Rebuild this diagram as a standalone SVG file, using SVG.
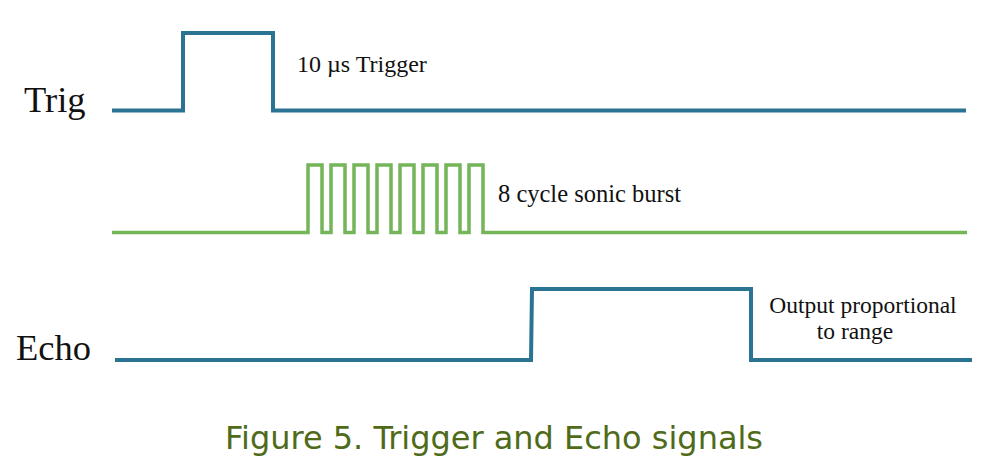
<svg xmlns="http://www.w3.org/2000/svg" width="996" height="469" viewBox="0 0 996 469">
<style>
.sig{fill:none;stroke-linejoin:miter;stroke-linecap:butt}
.blue{stroke:#2a7392;stroke-width:4}
.green{stroke:#74b55a;stroke-width:3.5}
.lbl{font-family:"Liberation Serif","Times New Roman",serif;fill:#111}
.cap{font-family:"DejaVu Sans",Verdana,sans-serif;fill:#4f6b1a;font-size:32px}
</style>
<rect width="996" height="469" fill="#ffffff"/>
<g id="connectors">
<path id="trig-wave" class="sig blue" d="M112,110.5 H183 V33 H273 V110.5 H966"/>
<path id="burst-wave" class="sig green" d="M112,232.5 H308 V165 H322 V232.5 H331 V165 H345 V232.5 H354 V165 H368 V232.5 H377 V165 H391 V232.5 H400 V165 H414 V232.5 H423 V165 H437 V232.5 H446 V165 H460 V232.5 H469 V165 H483 V232.5 H967"/>
<path id="echo-wave" class="sig blue" d="M115,360 H531 L532,289 H751 V360 H972"/>
</g>
<g id="trig-label"><text class="lbl" x="24" y="112" font-size="36.5">Trig</text></g>
<g id="echo-label"><text class="lbl" x="16" y="360" font-size="36.5">Echo</text></g>
<g id="trigger-note"><text class="lbl" x="297" y="72" font-size="24">10 µs Trigger</text></g>
<g id="burst-note"><text class="lbl" x="498" y="202" font-size="24.5">8 cycle sonic burst</text></g>
<g id="echo-note">
<text class="lbl" x="863" y="313" font-size="23.5" text-anchor="middle">Output proportional</text>
<text class="lbl" x="855" y="339" font-size="23.5" text-anchor="middle">to range</text>
</g>
<g id="caption"><text class="cap" x="225" y="449" textLength="538" lengthAdjust="spacingAndGlyphs">Figure 5. Trigger and Echo signals</text></g>
</svg>
